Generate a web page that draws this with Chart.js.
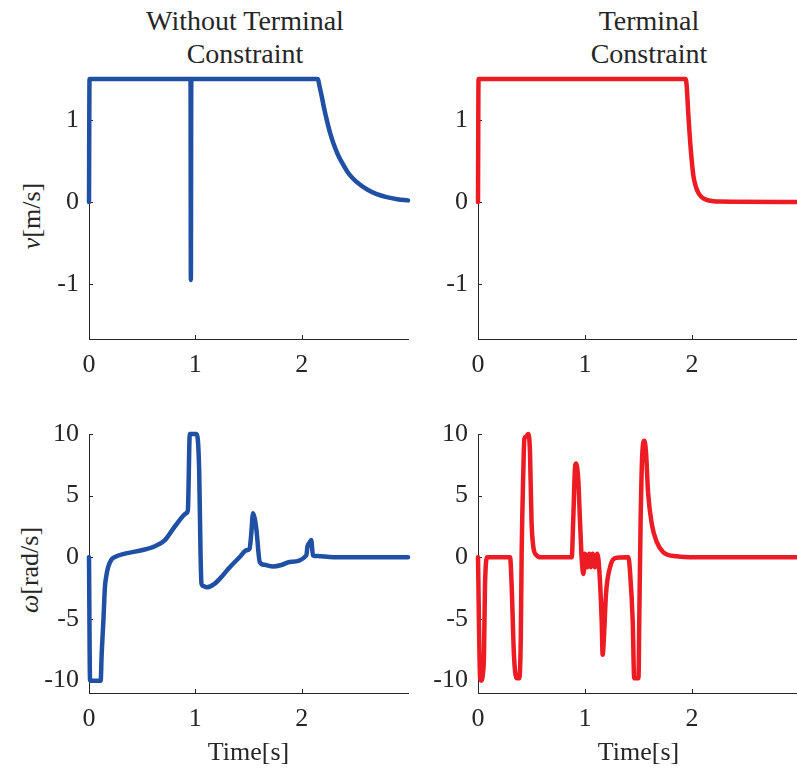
<!DOCTYPE html>
<html lang="en">
<head>
<meta charset="UTF-8">
<title>Velocity and angular velocity</title>
<style>
    body {
        margin: 0;
        background: #fff;
        width: 797px;
        height: 769px;
        position: relative;
        overflow: hidden;
        font-family: "Liberation Serif", "Times New Roman", "DejaVu Serif", serif;
        color: #262626;
    }
    canvas { position: absolute; }
    .title {
        position: absolute;
        top: 4px;
        width: 300px;
        text-align: center;
        font-size: 28px;
        line-height: 33px;
    }
    .ylab {
        position: absolute;
        font-size: 26px;
        white-space: nowrap;
        transform: translate(-50%, -50%) rotate(-90deg);
    }
</style>
<script src="https://cdn.jsdelivr.net/npm/chart.js"></script>
</head>
<body>
<div class="title" style="left:95px">Without Terminal<br>Constraint</div>
<div class="title" style="left:499px">Terminal<br>Constraint</div>
<div class="ylab" style="left:32px; top:216px"><i>v</i>[m/s]</div>
<div class="ylab" style="left:30px; top:570px"><i>ω</i>[rad/s]</div>

<canvas id="tl" width="420" height="330" style="left:0; top:60px"></canvas>
<canvas id="tr" width="409" height="330" style="left:390px; top:60px"></canvas>
<canvas id="bl" width="420" height="369" style="left:0; top:400px"></canvas>
<canvas id="br" width="409" height="369" style="left:390px; top:400px"></canvas>

<script>
// tick labels
const timeTicks = [0, 1, 2];
const vTicks = [-1, 0, 1];
const wTicks = [-10, -5, 0, 5, 10];

// v, without terminal constraint
const tlTime = [0, 0.005, 0.955, 0.958, 0.962, 2.15, 2.17, 2.19, 2.21, 2.24, 2.27, 2.3, 2.34, 2.38, 2.43, 2.48, 2.55, 2.62, 2.7, 2.8, 2.9, 3.0];
const tlV = [0, 1.5, 1.5, -0.95, 1.5, 1.5, 1.4, 1.28, 1.15, 0.98, 0.83, 0.71, 0.58, 0.48, 0.37, 0.29, 0.21, 0.15, 0.1, 0.06, 0.035, 0.02];

// v, terminal constraint
const trTime = [0, 0.005, 1.94, 1.95, 1.966, 1.988, 2.012, 2.035, 2.06, 2.09, 2.137, 2.2, 2.26, 3.0];
const trV = [0, 1.5, 1.5, 1.42, 1.06, 0.65, 0.33, 0.19, 0.11, 0.06, 0.025, 0.01, 0.005, 0];

// omega, without terminal constraint
const blTime = [0, 0.01, 0.11, 0.119, 0.135, 0.15, 0.165, 0.18, 0.21, 0.244, 0.338, 0.495, 0.62, 0.714, 0.807, 0.917, 0.93, 0.948,
    1.01, 1.036, 1.049, 1.058, 1.08, 1.105, 1.18, 1.25, 1.324, 1.418, 1.48, 1.51, 1.525, 1.543, 1.56, 1.575, 1.606, 1.65, 1.73, 1.81, 1.887, 2.044,
    2.055, 2.075, 2.09, 2.106, 2.15, 2.26, 2.5, 3.0];
const blW = [0, -10, -10, -7.9, -5.2, -2.4, -1.4, -0.8, -0.2, 0.03, 0.3, 0.57, 0.9, 1.4, 2.5, 3.6, 3.85, 10,
    10, 7.1, 0.3, -2.15, -2.35, -2.43, -2.15, -1.55, -0.8, 0.03, 0.57, 0.7, 1.8, 3.58, 3.1, 2.2, -0.38, -0.6, -0.74, -0.62, -0.38, 0.16,
    0.9, 1.2, 1.4, 0.16, 0.1, 0.03, 0, 0];

// omega, terminal constraint
const brTime = [0, 0.02, 0.03, 0.045, 0.056, 0.065, 0.087, 0.3, 0.315, 0.336, 0.36, 0.386, 0.4, 0.408, 0.424, 0.433, 0.45, 0.47,
    0.486, 0.5, 0.517, 0.548, 0.59, 0.876, 0.89, 0.905, 0.916, 0.937, 0.953, 0.97, 0.985, 1.0, 1.02, 1.04, 1.055, 1.072, 1.093,
    1.115, 1.134, 1.156, 1.165, 1.178, 1.196, 1.234, 1.296, 1.405, 1.42, 1.446, 1.46, 1.5, 1.507, 1.52, 1.536, 1.555, 1.57,
    1.59, 1.623, 1.67, 1.73, 1.857, 2.04, 3.0];
const brW = [0, -9.8, -10, -9.5, -7.9, -2.4, 0, 0, -2.4, -7.9, -9.8, -9.8, -6.5, 0.3, 7.1, 9.6, 9.8, 10,
    8.5, 3, 0.85, 0.16, 0, 0, 3, 7, 7.6, 6.3, 3, -0.25, -1.35, 0.3, -0.8, 0.3, -0.8, 0.3, -0.8,
    0.3, -1.07, -5.2, -7.9, -6.3, -3, -0.8, -0.03, 0, -1.07, -5.2, -9.8, -9.8, -5.2, 3, 8.5, 9.45, 8.5,
    5.2, 2.76, 1.25, 0.43, 0.08, 0, 0];

const axisColor = '#262626';
const blue = 'rgb(32, 80, 163)';
const red = 'rgb(237, 28, 36)';
const font = { family: '"Liberation Serif", "Times New Roman", "DejaVu Serif", serif', size: 26 };

// MATLAB-style ticks pointing into the plot
const inwardTicks = {
    id: 'inwardTicks',
    beforeDatasetsDraw(chart) {
        const { ctx, chartArea: a, scales } = chart;
        ctx.save();
        ctx.strokeStyle = axisColor;
        ctx.lineWidth = 1;
        ctx.beginPath();
        scales.x.ticks.forEach(t => {
            const px = Math.round(scales.x.getPixelForValue(t.value)) + 0.5;
            ctx.moveTo(px, a.bottom);
            ctx.lineTo(px, a.bottom - 4);
        });
        scales.y.ticks.forEach(t => {
            const py = Math.round(scales.y.getPixelForValue(t.value)) + 0.5;
            ctx.moveTo(a.left, py);
            ctx.lineTo(a.left + 4, py);
        });
        ctx.stroke();
        ctx.restore();
    }
};

function makeChart(id, xs, ys, color, yMin, yMax, yTicks, cfg) {
    const points = xs.map((x, i) => ({ x: x, y: ys[i] }));
    new Chart(document.getElementById(id), {
        type: 'scatter',
        data: {
            datasets: [{
                data: points,
                showLine: true,
                borderColor: color,
                borderWidth: 4.5,
                borderJoinStyle: 'round',
                borderCapStyle: 'round',
                cubicInterpolationMode: 'monotone',
                pointRadius: 0,
                clip: false
            }]
        },
        options: {
            responsive: false,
            animation: false,
            events: [],
            layout: { padding: { top: cfg.padTop, right: cfg.padRight, left: 0, bottom: 0 } },
            plugins: { legend: { display: false }, tooltip: { enabled: false } },
            scales: {
                x: {
                    type: 'linear',
                    min: 0,
                    max: 3,
                    afterBuildTicks: s => { s.ticks = timeTicks.map(v => ({ value: v })); },
                    afterFit: s => {
                        s.height = cfg.xHeight;
                        s.paddingLeft = 0;
                        s.paddingRight = 0;
                    },
                    grid: { display: false, drawTicks: false },
                    border: { display: true, color: axisColor, width: 1 },
                    ticks: { padding: 11, font: font, color: axisColor, maxRotation: 0, autoSkip: false },
                    title: {
                        display: !!cfg.xTitle,
                        text: cfg.xTitle || '',
                        font: font,
                        color: axisColor,
                        padding: { top: 0, bottom: 0 }
                    }
                },
                y: {
                    min: yMin,
                    max: yMax,
                    afterBuildTicks: s => { s.ticks = yTicks.map(v => ({ value: v })); },
                    afterFit: s => {
                        s.width = cfg.yWidth;
                        s.paddingTop = 0;
                        s.paddingBottom = 0;
                    },
                    grid: { display: false, drawTicks: false },
                    border: { display: true, color: axisColor, width: 1 },
                    ticks: { padding: 10, font: font, color: axisColor, autoSkip: false }
                }
            }
        },
        plugins: [inwardTicks]
    });
}

makeChart('tl', tlTime, tlV, blue, -1.67, 1.5, vTicks, { padTop: 19, padRight: 12, yWidth: 89, xHeight: 51 });
makeChart('tr', trTime, trV, red, -1.67, 1.5, vTicks, { padTop: 19, padRight: 0, yWidth: 88, xHeight: 51 });
makeChart('bl', blTime, blW, blue, -11, 10, wTicks, { padTop: 34, padRight: 12, yWidth: 89, xHeight: 76, xTitle: 'Time[s]' });
makeChart('br', brTime, brW, red, -11, 10, wTicks, { padTop: 34, padRight: 0, yWidth: 88, xHeight: 76, xTitle: 'Time[s]' });
</script>
</body>
</html>
